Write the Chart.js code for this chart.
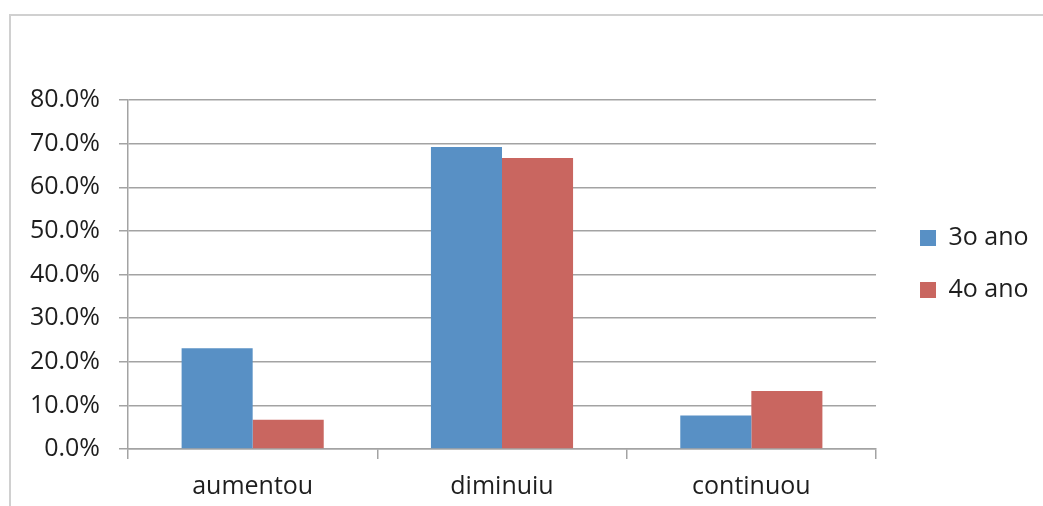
<!DOCTYPE html>
<html>
<head>
<meta charset="utf-8">
<script src="https://cdn.jsdelivr.net/npm/chart.js@4"></script>
<style>
  html, body { margin: 0; padding: 0; background: #fff; overflow: hidden; }
  #wrap { position: relative; width: 1043px; height: 506px; overflow: hidden; }
  #frame { position: absolute; left: 9px; top: 14px; width: 2000px; height: 2000px;
           border-top: 2px solid #d0d0d0; border-left: 2px solid #d0d0d0; }
  #c { position: absolute; left: 0; top: 0; }
</style>
</head>
<body>
<div id="wrap">
  <div id="frame"></div>
  <canvas id="c" width="1043" height="506"></canvas>
</div>
<script>
const categories = ['aumentou', 'diminuiu', 'continuou'];
const seriesNames = ['3o ano', '4o ano'];
const ano3 = [23.1, 69.2, 7.7];
const ano4 = [6.7, 66.7, 13.3];
const yTicks = [0, 10, 20, 30, 40, 50, 60, 70, 80];

const FONT = "'Open Sans', 'Noto Sans', sans-serif";
const GRID = '#a3a3a3';
const TEXT = '#1e1e1e';

new Chart(document.getElementById('c'), {
  type: 'bar',
  data: {
    labels: categories,
    datasets: [
      { label: seriesNames[0], data: ano3, backgroundColor: '#5890c5', borderWidth: 0 },
      { label: seriesNames[1], data: ano4, backgroundColor: '#c96660', borderWidth: 0 }
    ]
  },
  options: {
    responsive: false,
    animation: false,
    devicePixelRatio: 1,
    layout: { padding: { top: 26, bottom: 4, left: 0, right: 4.4 } },
    datasets: { bar: { categoryPercentage: 0.57, barPercentage: 1 } },
    plugins: {
      tooltip: { enabled: false },
      title: { display: true, text: ' ', font: { size: 10, lineHeight: 1 }, padding: { top: 0, bottom: 64 } },
      legend: {
        position: 'right',
        labels: {
          boxWidth: 16, boxHeight: 16, padding: 27, color: TEXT,
          font: { family: FONT, size: 25 }
        }
      }
    },
    scales: {
      x: {
        grid: { display: true, drawOnChartArea: false, drawTicks: true, tickLength: 10, color: GRID, lineWidth: 1.5, offset: true },
        border: { display: true, color: GRID, width: 1.5 },
        ticks: { color: TEXT, padding: 13, font: { family: FONT, size: 25 }, maxRotation: 0 },
        afterFit: s => { s.height = 53; }
      },
      y: {
        min: 0, max: 80,
        afterBuildTicks: s => { s.ticks = yTicks.map(v => ({ value: v })); },
        grid: { color: GRID, lineWidth: 1.5, drawTicks: true, tickLength: 9 },
        border: { display: true, color: GRID, width: 1.5 },
        ticks: { color: TEXT, padding: 19, font: { family: FONT, size: 25 }, callback: v => v.toFixed(1) + '%' },
        afterFit: s => { s.width = 128; }
      },
      y2: {
        type: 'linear', position: 'right', display: true,
        grid: { display: false, drawTicks: false }, border: { display: false },
        ticks: { display: false },
        afterFit: s => { s.width = 17; }
      }
    }
  }
});
</script>
</body>
</html>
